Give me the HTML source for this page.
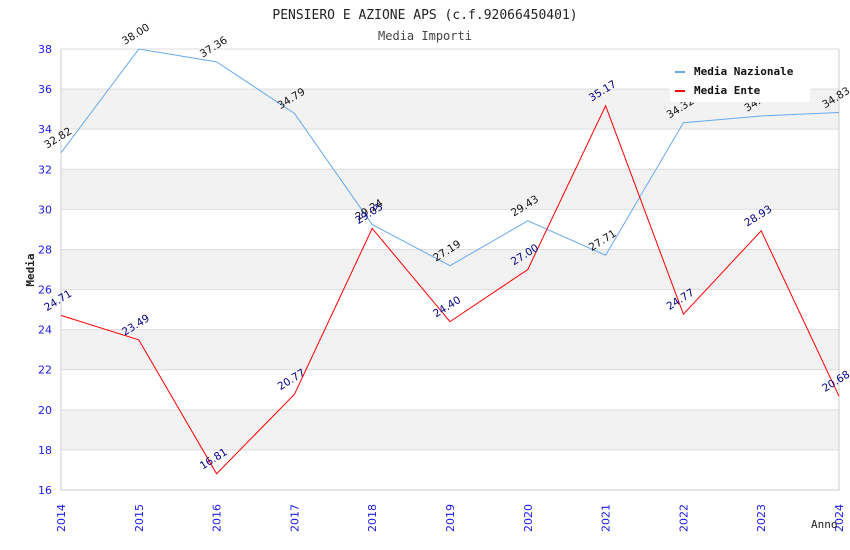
<!DOCTYPE html>
<html><head><meta charset="utf-8"><style>
body{margin:0;background:#fff}
svg{display:block;font-family:"DejaVu Sans Mono","Liberation Mono",monospace}
</style></head><body>
<svg id="c" width="850" height="550">
<text x="425" y="19" text-anchor="middle" font-size="13" fill="#222">PENSIERO E AZIONE APS (c.f.92066450401)</text>
<text x="425" y="40" text-anchor="middle" font-size="12" fill="#444">Media Importi</text>
<g id="bands"></g><g id="grid"></g><g id="axes"></g><g id="series"></g><g id="labels"></g>
<text x="34" y="270" font-size="11" font-weight="bold" fill="#222" text-anchor="middle" transform="rotate(-90 34 270)">Media</text>
<text x="811" y="528" font-size="11" fill="#222">Anno</text>
<g>
<rect x="670" y="60" width="140" height="42" fill="#fff"/>
<g><rect x="675" y="71" width="10" height="2" fill="#66aaee"/><text x="694" y="75" font-size="11" font-weight="bold" fill="#111">Media Nazionale</text></g>
<g><rect x="675" y="90" width="10" height="2" fill="#ff0000"/><text x="694" y="94" font-size="11" font-weight="bold" fill="#111">Media Ente</text></g>
</g>
</svg>
<script>
const years=[2014,2015,2016,2017,2018,2019,2020,2021,2022,2023,2024];
const nazionale=[32.82,38.00,37.36,34.79,29.24,27.19,29.43,27.71,34.32,34.66,34.83];
const ente=[24.71,23.49,16.81,20.77,29.05,24.40,27.00,35.17,24.77,28.93,20.68];
const yTicks=[16,18,20,22,24,26,28,30,32,34,36,38];
const X0=61,X1=839,Y0=490,Y1=49,YMIN=16,YMAX=38;
const xs=i=>X0+(X1-X0)*i/(years.length-1);
const ys=v=>Y0-(v-YMIN)/(YMAX-YMIN)*(Y0-Y1);
const NS='http://www.w3.org/2000/svg';
function mk(t,a,p){const e=document.createElementNS(NS,t);for(const k in a)e.setAttribute(k,a[k]);p.appendChild(e);return e;}
const bands=document.getElementById('bands'),grid=document.getElementById('grid'),axes=document.getElementById('axes'),series=document.getElementById('series'),labels=document.getElementById('labels');
for(let v=18;v<YMAX;v+=4){const r=mk('rect',{x:X0,y:ys(v+2),width:X1-X0,height:ys(v)-ys(v+2),fill:'#f2f2f2'},bands);

}
yTicks.forEach(v=>{const l=mk('line',{x1:X0,x2:X1,y1:ys(v),y2:ys(v),stroke:'#dddddd'},grid);


const t=mk('text',{x:X0-9,y:ys(v)+4,'text-anchor':'end','font-size':11,fill:'#1a1aee','font-family':'DejaVu Sans, sans-serif'},axes);t.textContent=v;

});
const ax=mk('path',{d:`M${X0},${Y1}V${Y0}H${X1}V${Y1}`,fill:'none',stroke:'#ccc'},axes);


years.forEach((y,i)=>{const x=xs(i)+4;const t=mk('text',{x:x,y:532,'font-size':11,fill:'#1a1aee','font-family':'DejaVu Sans, sans-serif',transform:`rotate(-90 ${x} 532)`},axes);t.textContent=y;

});
function draw(arr,color,lc,name){
const p=mk('polyline',{points:arr.map((v,i)=>xs(i)+','+ys(v)).join(' '),fill:'none',stroke:color,'stroke-width':1},series);


arr.forEach((v,i)=>{const x=xs(i)-14,y=ys(v)-4;const t=mk('text',{x:x,y:y,'font-size':10.5,fill:lc,'font-family':'DejaVu Sans, sans-serif',transform:`rotate(-32 ${x} ${y})`},labels);t.textContent=v.toFixed(2);

});}
draw(nazionale,'#66aaee','#111','nazionale');
draw(ente,'#ff0000','#000088','ente');
</script>
</body></html>
